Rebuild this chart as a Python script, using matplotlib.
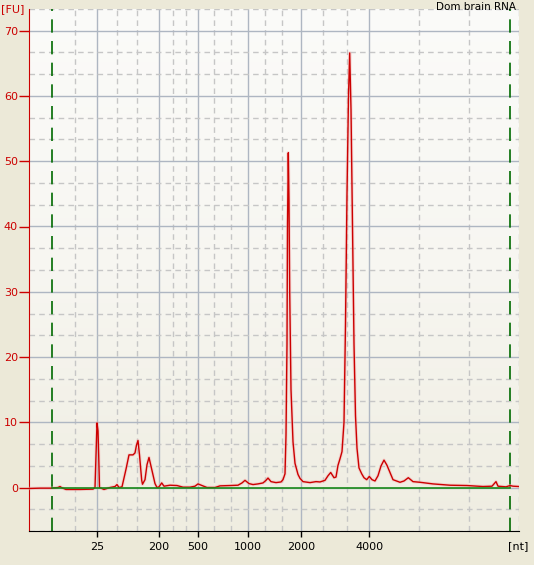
import numpy as np
import matplotlib
matplotlib.use('Agg')
import matplotlib.pyplot as plt
from matplotlib.colors import LinearSegmentedColormap

# electropherogram trace, migration time (s) vs fluorescence (FU)
time_s = [19.0, 20.1, 21.3, 21.9, 22.1, 22.3, 22.7, 24.1, 25.4, 25.6, 25.7, 25.8, 25.9, 25.97,
          26.05, 26.5, 27.1, 27.6, 27.8, 28.0, 28.3, 28.7, 29.0, 29.4, 29.6, 29.75, 29.9,
          30.05, 30.27, 30.35, 30.6, 30.8, 31.0, 31.15, 31.3, 31.6, 31.8, 32.0, 32.27, 32.5,
          33.1, 33.8, 34.4, 35.1, 35.6, 35.9, 36.3, 36.8, 37.6, 38.1, 39.1, 39.9, 40.3, 40.6,
          41.0, 41.4, 41.9, 42.4, 42.7, 42.9, 43.2, 43.7, 44.2, 44.4, 44.6, 44.7, 44.8, 44.85,
          44.93, 45.0, 45.07, 45.2, 45.4, 45.6, 45.9, 46.1, 46.4, 47.1, 47.7, 48.1, 48.6, 48.9,
          49.17, 49.5, 49.7, 49.9, 50.1, 50.3, 50.5, 50.65, 50.8, 50.95, 51.07, 51.2, 51.35,
          51.5, 51.65, 51.8, 52.0, 52.27, 52.5, 52.77, 53.03, 53.3, 53.6, 53.9, 54.2, 54.5,
          54.8, 55.1, 55.4, 56.1, 56.5, 56.93, 57.4, 58.1, 59.4, 61.1, 62.8, 64.4, 65.3, 65.7,
          65.9, 66.7, 67.1, 67.4, 68.0]
fu = [-0.15, -0.1, -0.1, 0.0, 0.15, -0.05, -0.3, -0.3, -0.25, 0.0, 4.9, 9.9, 8.7, 4.9,
      0.0, -0.3, 0.0, 0.15, 0.45, 0.0, 0.1, 2.8, 5.0, 5.0, 5.3, 6.5, 7.2,
      5.0, 1.1, 0.5, 1.2, 3.5, 4.6, 3.6, 2.6, 0.6, 0.0, 0.1, 0.7, 0.2,
      0.35, 0.3, 0.05, 0.05, 0.2, 0.55, 0.3, 0.0, 0.0, 0.25, 0.3, 0.35, 0.7, 1.1,
      0.6, 0.45, 0.55, 0.7, 1.1, 1.45, 0.9, 0.75, 0.85, 1.2, 2.1, 8.0, 22.0, 40.0,
      51.3, 44.0, 30.0, 15.0, 7.0, 3.7, 2.0, 1.4, 0.9, 0.75, 0.9, 0.85, 1.1, 1.8,
      2.3, 1.5, 1.6, 3.4, 4.4, 5.5, 10.0, 25.0, 45.0, 60.0, 66.6, 58.0, 40.0,
      22.0, 11.0, 6.0, 3.0, 2.1, 1.5, 1.2, 1.7, 1.2, 1.0, 1.8, 3.3, 4.2,
      3.4, 2.3, 1.2, 0.8, 1.0, 1.5, 0.9, 0.8, 0.55, 0.35, 0.3, 0.15, 0.2, 0.9,
      0.2, 0.1, 0.3, 0.2, 0.15]

# ladder sizes shown on the x axis and where they sit in time
ladder_nt = ['25', '200', '500', '1000', '2000', '4000']
ladder_time = [25.83, 32.0, 35.9, 40.87, 46.17, 53.0]
minor_time = [23.57, 27.8, 29.8, 33.37, 34.67, 37.5, 39.17, 42.6, 44.27, 48.4, 50.77, 58.0, 63.0, 68.0]
markers_time = [21.3, 67.1]   # lower / upper marker
fu_ticks = [0, 10, 20, 30, 40, 50, 60, 70]

XMIN, XMAX = 19.0, 68.0
YMIN, YMAX = -20/3, 220/3

fig = plt.figure(figsize=(5.34, 5.65), dpi=100, facecolor='#ece9d8')
ax = fig.add_axes([29/534, 1 - 531/565, 490/534, 522/565])

# soft vertical gradient for the plot area
cmap = LinearSegmentedColormap.from_list('bg', ['#efede1', '#f7f6f1', '#fbfbf9'])
ax.imshow(np.linspace(0, 1, 256).reshape(-1, 1), cmap=cmap, aspect='auto', origin='lower',
          extent=[XMIN, XMAX, YMIN, YMAX], zorder=0)

# grid
for t in minor_time:
    ax.axvline(t, color='#c6c6c6', lw=1, ls=(0, (4, 3)), zorder=1)
for t in ladder_time:
    ax.axvline(t, color='#aeb6c2', lw=1, zorder=1)
for v in np.arange(-20/3, 74, 10/3):
    if abs(round(v) - v) < 1e-6 and int(round(v)) % 10 == 0:
        ax.axhline(v, color='#aeb6c2', lw=1, zorder=1)
    else:
        ax.axhline(v, color='#c6c6c6', lw=1, ls=(0, (4, 3)), zorder=1)

for t in markers_time:
    ax.axvline(t, color='#006a00', lw=1.2, ls=(0, (8, 5)), zorder=2)

ax.plot(time_s, fu, color='#f2b8b8', lw=2.4, alpha=0.5, zorder=3)
ax.plot(time_s, fu, color='#cc0000', lw=1.0, zorder=3)
ax.plot([markers_time[0], markers_time[1]], [0, 0], color='#1a8a1a', lw=1.2, zorder=4)

ax.set_xlim(XMIN, XMAX)
ax.set_ylim(YMIN, YMAX)
ax.set_xticks(ladder_time)
ax.set_xticklabels(ladder_nt)
ax.set_yticks(fu_ticks)
ax.tick_params(axis='x', length=4, width=1, color='black', labelsize=8, pad=4)
ax.tick_params(axis='y', length=7, width=1, color='#cc0000', labelcolor='#cc0000', labelsize=8, pad=1)

for s in ['top', 'right']:
    ax.spines[s].set_visible(False)
ax.spines['left'].set_color('#cc0000')
ax.spines['bottom'].set_color('black')

fig.text(1/534, 1 - 9/565, '[FU]', color='#cc0000', fontsize=8, ha='left', va='center')
fig.text(528/534, 1 - 546/565, '[nt]', color='black', fontsize=8, ha='right', va='center')
fig.text(516/534, 1 - 7/565, 'Dom brain RNA', color='black', fontsize=7.5, ha='right', va='center')

fig.savefig('out.png', dpi=100, facecolor=fig.get_facecolor())
